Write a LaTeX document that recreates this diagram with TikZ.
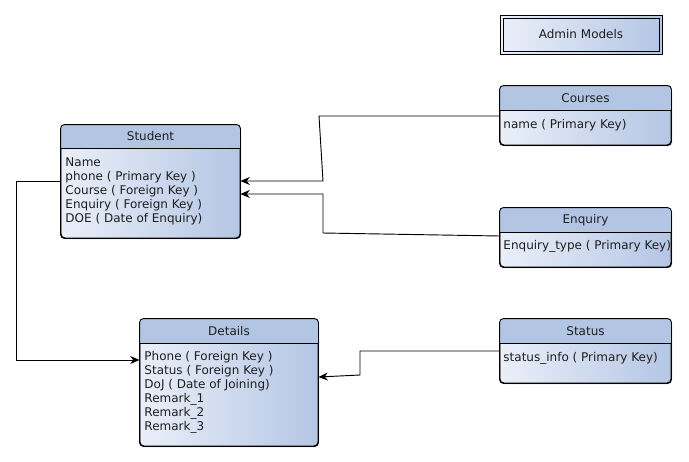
\documentclass[tikz,border=0pt]{standalone}
\usepackage{fontspec}
\setmainfont{DejaVu Sans}
\usetikzlibrary{arrows.meta,shadows}
\definecolor{hdrblue}{RGB}{178,198,228}
\definecolor{bodyleft}{RGB}{234,239,249}
\definecolor{bodyright}{RGB}{180,198,228}
\definecolor{inkgray}{RGB}{30,30,30}
% header band of an entity box: #1 node name, #2 y of the divider
\newcommand{\entityhead}[2]{%
  \begin{scope}
    \clip[rounded corners=3pt] (#1.south west) rectangle (#1.north east);
    \fill[hdrblue] (#1.north west) rectangle (#1.east |- 0,#2);
  \end{scope}
  \draw[rounded corners=3pt] (#1.south west) rectangle (#1.north east);
  \draw (#1.west |- 0,#2) -- (#1.east |- 0,#2);
}

\begin{document}
\begin{tikzpicture}[x=0.75pt,y=-0.75pt,line width=0.7pt,font=\fontsize{9}{10.5}\selectfont,text=inkgray]
        %
        % `entity' is the body of a table box, `title' its name,
        % `fields' the list of columns, `link' the connectors.
        \tikzstyle{entity} = [draw,rounded corners=3pt,inner sep=0pt,left color=bodyleft,right color=bodyright,
                              drop shadow={shadow xshift=1pt,shadow yshift=-1pt,opacity=0.25}]
        \tikzstyle{title} = [inner sep=0pt,anchor=center]
        \tikzstyle{fields} = [inner sep=0pt,anchor=north west,align=left]
        \tikzstyle{link} = [line width=0.7pt,-{Stealth[length=7pt,width=6pt]}]
        %
        \useasboundingbox (0,0) rectangle (689,461);
        %
        % Admin Models
        \node[entity,rounded corners=0pt,minimum width=121.5pt,minimum height=29.25pt] (admin) at (581,34.5) {};
        \node[draw,inner sep=0pt,minimum width=117pt,minimum height=24.75pt] (admininner) at (581,34.5) {};
        \node[title] (admintitle) at (581,34.5) {Admin Models};
        %
        % Student
        \node[entity,minimum width=134.25pt,minimum height=84.75pt] (student) at (150.5,181.5) {};
        \entityhead{student}{148}
        \node[title] (studenttitle) at (150.5,136.5) {Student};
        \node[fields] (studentfields) at (65,157.6) {Name\\phone ( Primary Key )\\Course ( Foreign Key )\\Enquiry ( Foreign Key )\\DOE ( Date of Enquiry)};
        %
        % Courses
        \node[entity,minimum width=128.25pt,minimum height=44.25pt] (courses) at (585.5,115.5) {};
        \entityhead{courses}{110}
        \node[title] (coursestitle) at (585.5,98) {Courses};
        \node[fields] (coursesfields) at (503,119.3) {name ( Primary Key)};
        %
        % Enquiry
        \node[entity,minimum width=128.25pt,minimum height=44.25pt] (enquiry) at (585.5,237.5) {};
        \entityhead{enquiry}{232}
        \node[title] (enquirytitle) at (585.5,220) {Enquiry};
        \node[fields] (enquiryfields) at (503,240.3) {Enquiry\_type ( Primary Key)};
        %
        % Status
        \node[entity,minimum width=128.25pt,minimum height=48pt] (status) at (585.5,351) {};
        \entityhead{status}{343}
        \node[title] (statustitle) at (585.5,331) {Status};
        \node[fields] (statusfields) at (503,352.3) {status\_info ( Primary Key)};
        %
        % Details
        \node[entity,minimum width=133.5pt,minimum height=95.25pt] (details) at (229,382.5) {};
        \entityhead{details}{343}
        \node[title] (detailstitle) at (229,331) {Details};
        \node[fields] (detailsfields) at (144,351.3) {Phone ( Foreign Key )\\Status ( Foreign Key )\\DoJ ( Date of Joining)\\Remark\_1\\Remark\_2\\Remark\_3};
        %
        % Bends of the connectors
        \coordinate (b1) at (319,116);
        \coordinate (b2) at (323,181);
        \coordinate (b3) at (323,233);
        \coordinate (b4) at (323,194);
        \coordinate (b5) at (16,181);
        \coordinate (b6) at (16,360);
        \coordinate (b7) at (360,351);
        \coordinate (b8) at (360,375);
        \coordinate (b9) at (319,377);
        %
        % Courses -> Student
        \draw[link] (courses.west |- b1) -- (b1) -- (b2) -- (student.east |- b2);
        % Enquiry -> Student
        \draw[link] (enquiry.west |- 0,236) -- (b3) -- (b4) -- (student.east |- b4);
        % Student -> Details
        \draw[link] (student.west |- b5) -- (b5) -- (b6) -- (details.west |- b6);
        % Status -> Details
        \draw[link] (status.west |- b7) -- (b7) -- (b8) -- (details.east |- b9);
        %
\end{tikzpicture}
\end{document}
